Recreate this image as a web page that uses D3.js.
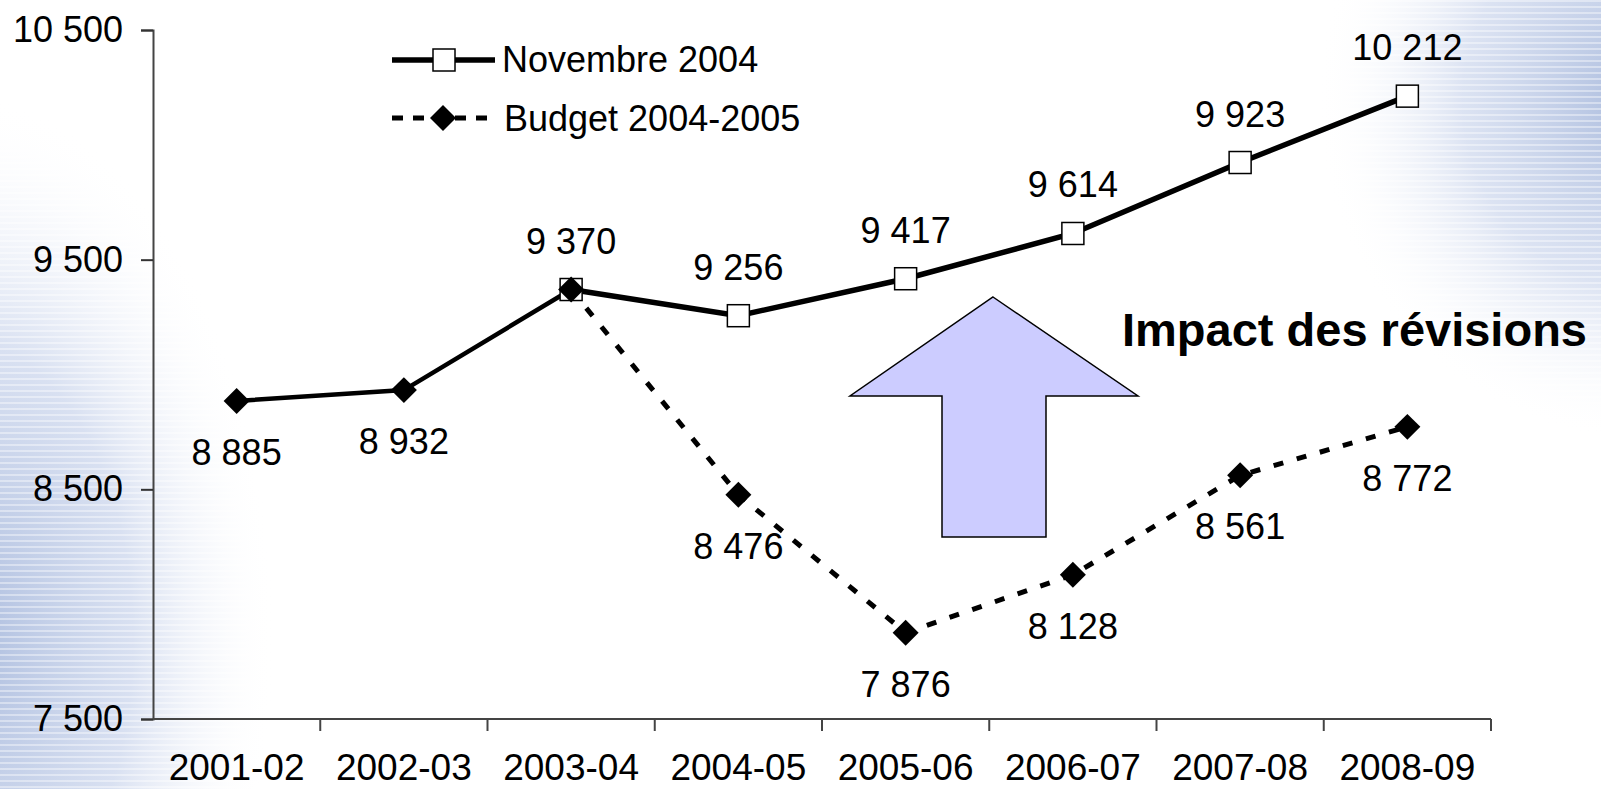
<!DOCTYPE html>
<html>
<head>
<meta charset="utf-8">
<script src="https://cdn.jsdelivr.net/npm/d3@7"></script>
<style>
  body { margin: 0; background: #fff; }
  svg { display: block; font-family: "Liberation Sans", Arial, sans-serif; }
</style>
</head>
<body>
<svg id="chart" width="1601" height="789"></svg>
<script>
// données
const categories = ["2001-02", "2002-03", "2003-04", "2004-05", "2005-06", "2006-07", "2007-08", "2008-09"];
const novembre = [null, null, 9370, 9256, 9417, 9614, 9923, 10212];
const budget = [8885, 8932, 9370, 8476, 7876, 8128, 8561, 8772];
const observedCount = 3; // années réalisées (trait plein)
const yTicks = [7500, 8500, 9500, 10500];
const legendLabels = ["Novembre 2004", "Budget 2004-2005"];
const annotation = "Impact des révisions";

const svg = d3.select("#chart");
const W = 1601, H = 789;

// fond (dégradé bleuté façon modèle PowerPoint)
const defs = svg.append("defs");
const gl = defs.append("radialGradient").attr("id", "bgLeft")
    .attr("gradientUnits", "userSpaceOnUse")
    .attr("cx", -40).attr("cy", 640).attr("r", 420)
    .attr("gradientTransform", "translate(-40,640) scale(0.75,1.3) translate(40,-640)");
gl.append("stop").attr("offset", "0%").attr("stop-color", "#aabbdd").attr("stop-opacity", 1);
gl.append("stop").attr("offset", "55%").attr("stop-color", "#c4d0ea").attr("stop-opacity", 0.65);
gl.append("stop").attr("offset", "100%").attr("stop-color", "#ffffff").attr("stop-opacity", 0);

const gr = defs.append("radialGradient").attr("id", "bgRight")
    .attr("gradientUnits", "userSpaceOnUse")
    .attr("cx", 1640).attr("cy", 100).attr("r", 340)
    .attr("gradientTransform", "translate(1640,100) scale(0.95,1) translate(-1640,-100)");
gr.append("stop").attr("offset", "0%").attr("stop-color", "#aabbdd").attr("stop-opacity", 1);
gr.append("stop").attr("offset", "55%").attr("stop-color", "#c4d0ea").attr("stop-opacity", 0.6);
gr.append("stop").attr("offset", "100%").attr("stop-color", "#ffffff").attr("stop-opacity", 0);

const stripes = defs.append("pattern").attr("id", "stripes")
    .attr("patternUnits", "userSpaceOnUse").attr("width", 8).attr("height", 6);
stripes.append("rect").attr("width", 8).attr("height", 2).attr("fill", "#ffffff").attr("opacity", 0.4);

svg.append("rect").attr("width", W).attr("height", H).attr("fill", "#ffffff");
svg.append("rect").attr("width", W).attr("height", H).attr("fill", "url(#bgLeft)");
svg.append("rect").attr("width", W).attr("height", H).attr("fill", "url(#bgRight)");
svg.append("rect").attr("width", W).attr("height", H).attr("fill", "url(#stripes)");

// échelles
const x = d3.scaleBand().domain(categories).range([153, 1491]);
const y = d3.scaleLinear().domain([7500, 10500]).range([719, 30]);
const cx = c => x(c) + x.bandwidth() / 2;

const fr = d3.formatLocale({ decimal: ",", thousands: " ", grouping: [3], currency: ["", " €"] });
const fmt = fr.format(",d");

// axe Y
const yAxis = svg.append("g")
    .attr("transform", `translate(${x.range()[0]},0)`)
    .call(d3.axisLeft(y).tickValues(yTicks).tickFormat(fmt).tickSize(12).tickPadding(18));
yAxis.select(".domain").attr("stroke", "#444").attr("stroke-width", 2);
yAxis.selectAll(".tick line").attr("stroke", "#333").attr("stroke-width", 2);
yAxis.selectAll(".tick text").attr("font-size", 36).attr("fill", "#000")
    .attr("font-family", "Liberation Sans, Arial, sans-serif");

// axe X (graduations entre les catégories)
const xAxis = svg.append("g").attr("transform", `translate(0,${y.range()[0]})`);
xAxis.append("line")
    .attr("x1", x.range()[0]).attr("x2", x.range()[1])
    .attr("stroke", "#444").attr("stroke-width", 2);
xAxis.selectAll(".xtick")
    .data(categories)
    .enter().append("line")
    .attr("x1", d => x(d) + x.bandwidth()).attr("x2", d => x(d) + x.bandwidth())
    .attr("y1", 0).attr("y2", 12)
    .attr("stroke", "#444").attr("stroke-width", 2);
xAxis.selectAll(".xlabel")
    .data(categories)
    .enter().append("text")
    .attr("x", d => cx(d)).attr("y", 61)
    .attr("text-anchor", "middle").attr("font-size", 37).attr("fill", "#000")
    .text(d => d);

// flèche "Impact des révisions"
const arrow = d3.path();
arrow.moveTo(993, 297);
arrow.lineTo(1138, 396);
arrow.lineTo(1046, 396);
arrow.lineTo(1046, 537);
arrow.lineTo(942, 537);
arrow.lineTo(942, 396);
arrow.lineTo(850, 396);
arrow.closePath();
svg.append("path").attr("d", arrow.toString())
    .attr("fill", "#ccccff").attr("stroke", "#000").attr("stroke-width", 1.5);

svg.append("text")
    .attr("x", 1122).attr("y", 346)
    .attr("font-size", 47).attr("font-weight", "bold").attr("fill", "#000")
    .text(annotation);

// séries
const nov = categories.map((c, i) => ({ c, v: novembre[i] })).filter(d => d.v !== null);
const bud = categories.map((c, i) => ({ c, v: budget[i] }));

const line = d3.line().x(d => cx(d.c)).y(d => y(d.v));

svg.append("path").datum(bud.slice(0, observedCount))
    .attr("fill", "none").attr("stroke", "#000").attr("stroke-width", 4.5)
    .attr("d", line);

svg.append("path").datum(nov)
    .attr("fill", "none").attr("stroke", "#000").attr("stroke-width", 5.5)
    .attr("d", line);

svg.append("path").datum(bud.slice(observedCount - 1))
    .attr("fill", "none").attr("stroke", "#000").attr("stroke-width", 5)
    .attr("stroke-dasharray", "10,14")
    .attr("d", line);

const sq = 22;
svg.selectAll(".sq").data(nov).enter().append("rect")
    .attr("x", d => cx(d.c) - sq / 2).attr("y", d => y(d.v) - sq / 2)
    .attr("width", sq).attr("height", sq)
    .attr("fill", "#fff").attr("stroke", "#000").attr("stroke-width", 1.5);

const diamond = d3.symbol().type(d3.symbolDiamond2).size(430);
svg.selectAll(".dm").data(bud).enter().append("path")
    .attr("d", diamond)
    .attr("transform", d => `translate(${cx(d.c)},${y(d.v)})`)
    .attr("fill", "#000");

// étiquettes de données
svg.selectAll(".lblNov").data(nov).enter().append("text")
    .attr("x", d => cx(d.c)).attr("y", d => y(d.v) - 36)
    .attr("text-anchor", "middle").attr("font-size", 36).attr("fill", "#000")
    .text(d => fmt(d.v));

svg.selectAll(".lblBud").data(bud.filter((d, i) => novembre[i] === null || novembre[i] !== d.v))
    .enter().append("text")
    .attr("x", d => cx(d.c)).attr("y", d => y(d.v) + 64)
    .attr("text-anchor", "middle").attr("font-size", 36).attr("fill", "#000")
    .text(d => fmt(d.v));

// légende
const legend = svg.append("g").attr("transform", "translate(392,60)");
legend.append("line").attr("x1", 0).attr("x2", 103).attr("stroke", "#000").attr("stroke-width", 5.5);
legend.append("rect").attr("x", 52 - sq / 2).attr("y", -sq / 2).attr("width", sq).attr("height", sq)
    .attr("fill", "#fff").attr("stroke", "#000").attr("stroke-width", 1.5);
legend.append("text").attr("x", 110).attr("y", 12).attr("font-size", 36).text(legendLabels[0]);

const leg2 = legend.append("g").attr("transform", "translate(0,58)");
leg2.append("line").attr("x1", 0).attr("x2", 103).attr("stroke", "#000").attr("stroke-width", 5)
    .attr("stroke-dasharray", "11,10");
leg2.append("path").attr("d", diamond).attr("transform", "translate(51,0)").attr("fill", "#000");
leg2.append("text").attr("x", 112).attr("y", 13).attr("font-size", 36).text(legendLabels[1]);
</script>
</body>
</html>
